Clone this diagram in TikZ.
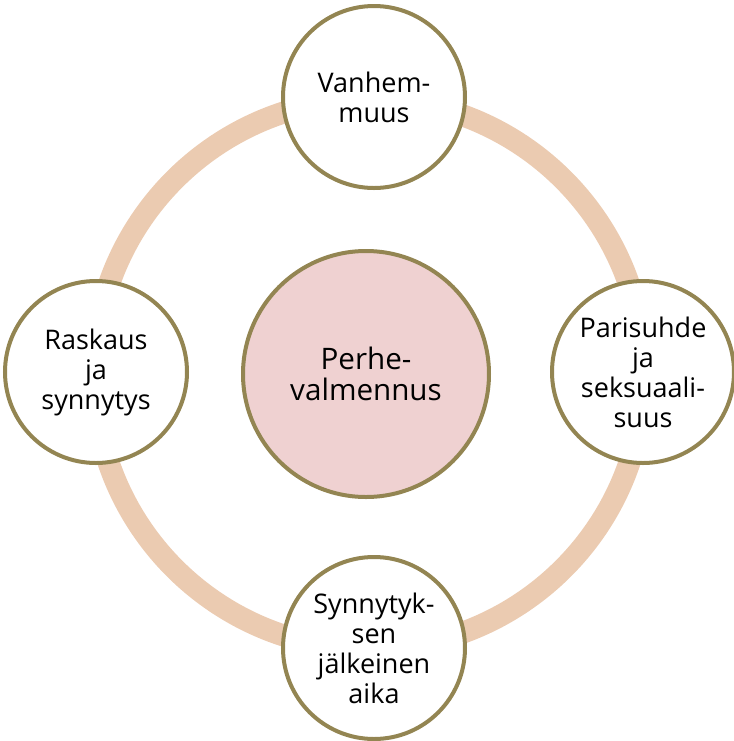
\documentclass[tikz,border=0pt]{standalone}
\usepackage{fontspec}
\setmainfont{Open Sans}
\usepackage{tikz}
\usetikzlibrary{positioning,calc}

\definecolor{ringc}{HTML}{EBCBB1}
\definecolor{rimc}{HTML}{938552}
\definecolor{midc}{HTML}{EFD1D1}

\tikzset{
  teema/.style={circle, draw=rimc, line width=2pt, fill=white,
    minimum size=91pt, align=center,
    font=\fontsize{13.5}{15}\selectfont, inner sep=0pt},
}

\begin{document}
\begin{tikzpicture}[x=0.5pt,y=-0.5pt]
\useasboundingbox (0,0) rectangle (734,741);
% the ring behind
\draw[ringc, line width=11pt] (369,374) circle (275);
% centre
\node[circle, draw=rimc, line width=2pt, fill=midc, minimum size=123pt,
  align=center, font=\fontsize{14.8}{15.5}\selectfont] (keski) at (366,374) {Perhe-\\valmennus};
% around it
\node[teema] (yla) at (374,97) {Vanhem-\\muus};
\node[teema] (oikea) at (643,372) {Parisuhde\\ja\\seksuaali-\\suus};
\node[teema] (ala) at (374,648) {Synnytyk-\\sen\\jälkeinen\\aika};
\node[teema] (vasen) at (96,372) {Raskaus\\ja\\synnytys};
\end{tikzpicture}
\end{document}
